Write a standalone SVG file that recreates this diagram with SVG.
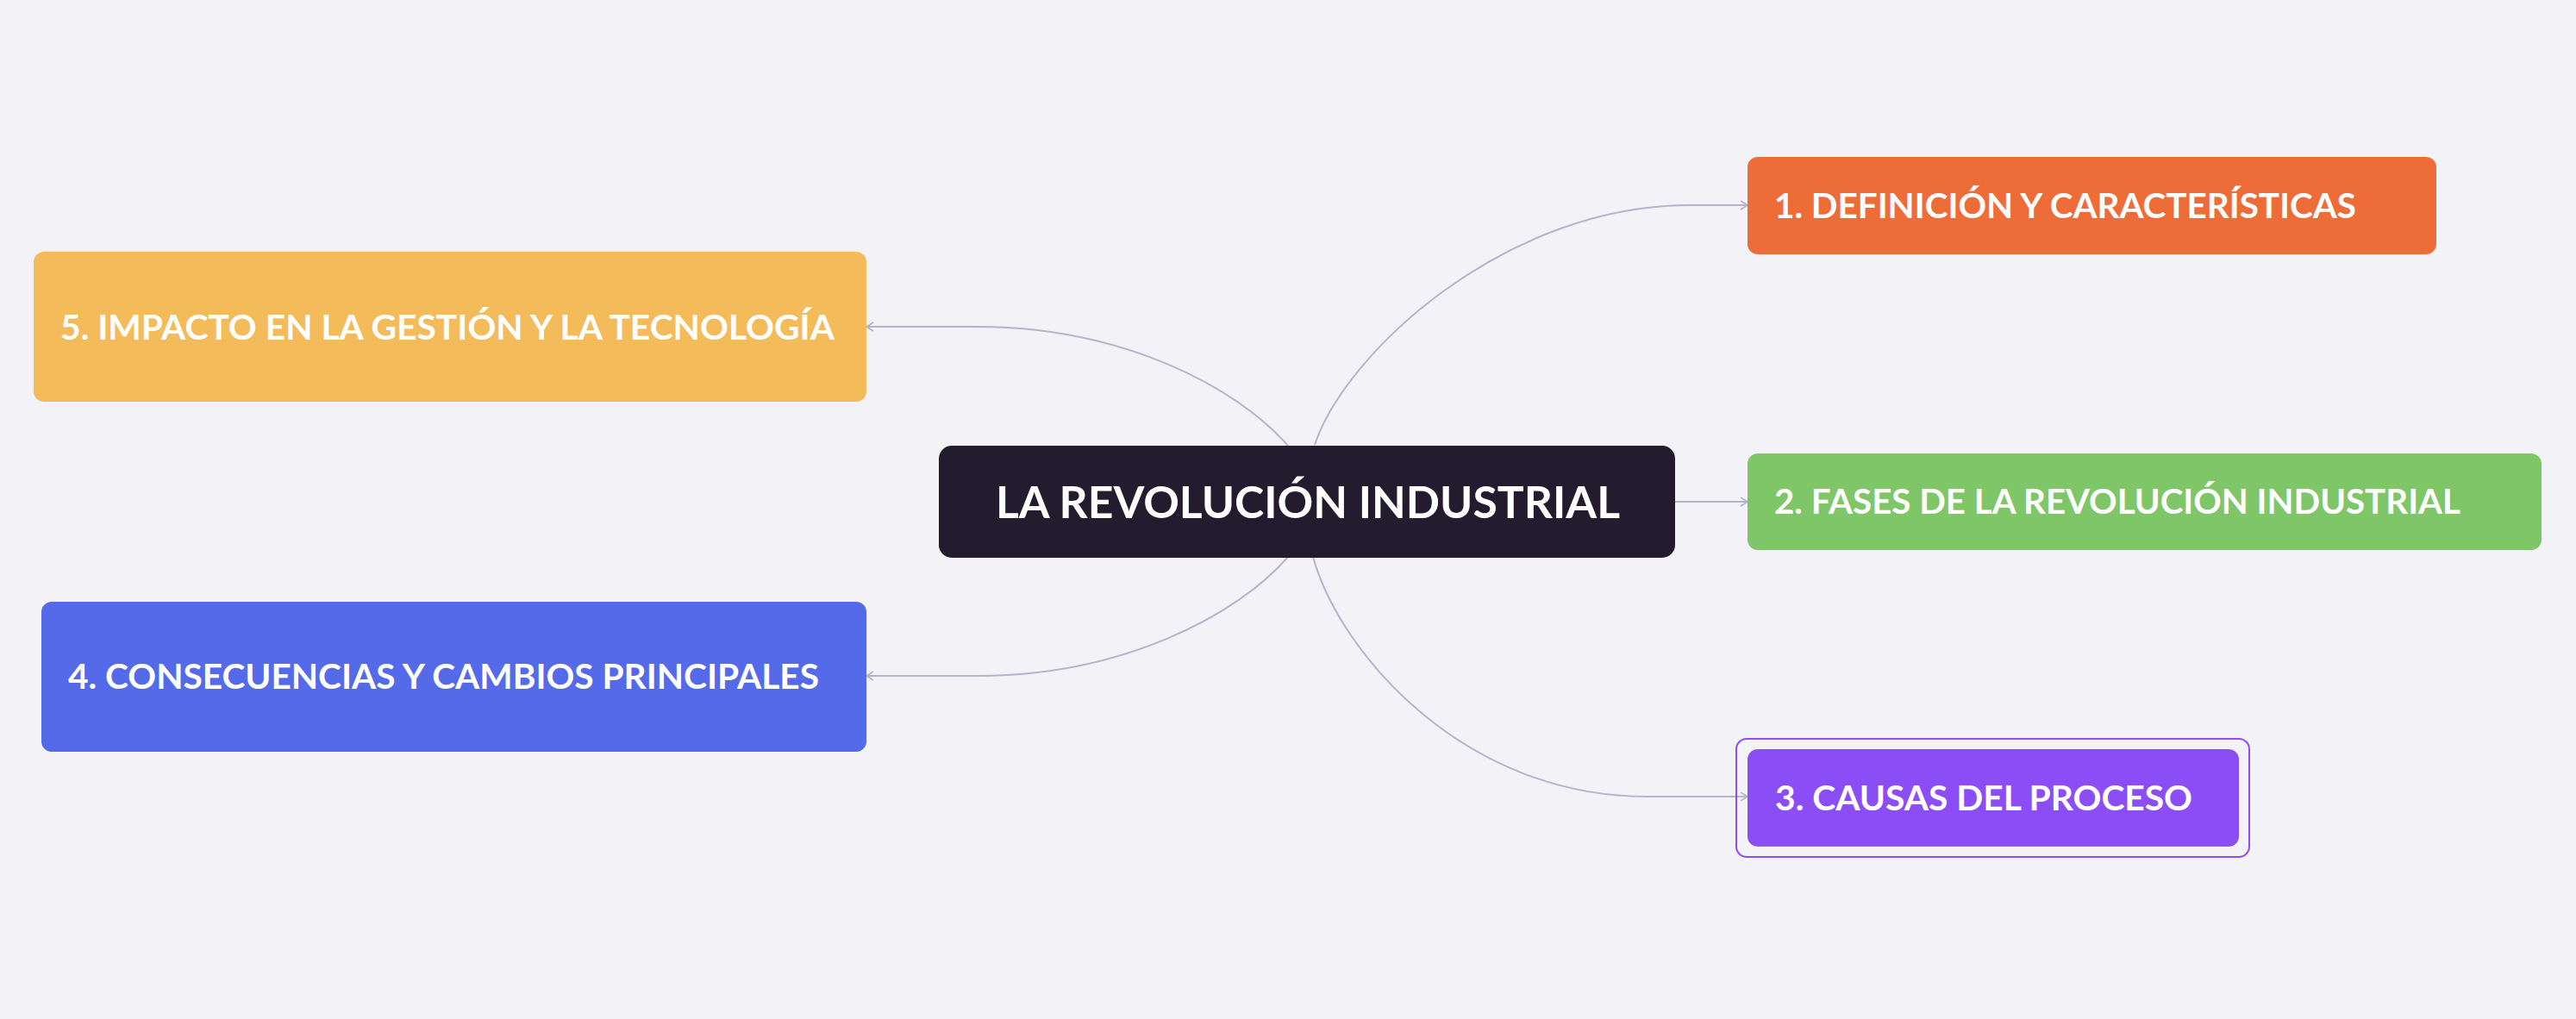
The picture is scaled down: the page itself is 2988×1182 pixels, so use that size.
<svg xmlns="http://www.w3.org/2000/svg" width="2988" height="1182" viewBox="0 0 2988 1182">
<style>
.bg{fill:#F3F3F7}
.edge{fill:none;stroke:#B4B4CC;stroke-width:2}
.lbl{font-family:Lato,"Noto Sans","Liberation Sans",sans-serif;font-weight:700;fill:#FFFFFF}
.leaf{font-size:40px}
.root{font-size:52px}
</style>
<defs>
<marker id="arr" markerUnits="userSpaceOnUse" markerWidth="12" markerHeight="12" refX="9" refY="6" orient="auto">
<path d="M1,1 L9,6 L1,11" fill="none" stroke="#B4B4CC" stroke-width="1.8"/>
</marker>
</defs>
<rect class="bg" x="0" y="0" width="2988" height="1182"/>
<g id="connectors">
<path class="edge" marker-end="url(#arr)" d="M1525,516 C1560,410 1745,238 1960,238 L2027,238"/>
<path class="edge" marker-end="url(#arr)" d="M1943,582 L2027,582"/>
<path class="edge" marker-end="url(#arr)" d="M1523,646 C1555,760 1700,924 1910,924 L2027,924"/>
<path class="edge" marker-end="url(#arr)" d="M1494,517 C1434,448 1300,379 1133,379 L1005,379"/>
<path class="edge" marker-end="url(#arr)" d="M1494,646 C1434,715 1300,784 1133,784 L1005,784"/>
</g>
<g id="node-root">
<rect x="1089" y="517" width="854" height="130" rx="15" fill="#221C2E"/>
<text class="lbl root" x="1155" y="600.5" textLength="724" lengthAdjust="spacingAndGlyphs">LA REVOLUCIÓN INDUSTRIAL</text>
</g>
<g id="node-1">
<rect x="2027" y="182" width="799" height="113" rx="12" fill="#ED6C38"/>
<text class="lbl leaf" x="2058" y="252.5" textLength="675" lengthAdjust="spacingAndGlyphs">1. DEFINICIÓN Y CARACTERÍSTICAS</text>
</g>
<g id="node-2">
<rect x="2027" y="526" width="921" height="112" rx="12" fill="#7EC668"/>
<text class="lbl leaf" x="2058" y="595.5" textLength="796" lengthAdjust="spacingAndGlyphs">2. FASES DE LA REVOLUCIÓN INDUSTRIAL</text>
</g>
<g id="node-3">
<rect x="2014" y="857" width="595" height="137" rx="12" fill="none" stroke="#8B4EF6" stroke-width="2"/>
<rect x="2027" y="869" width="570" height="113" rx="12" fill="#8B4EF6"/>
<text class="lbl leaf" x="2059" y="940" textLength="484" lengthAdjust="spacingAndGlyphs">3. CAUSAS DEL PROCESO</text>
</g>
<g id="node-4">
<rect x="48" y="698" width="957" height="174" rx="12" fill="#546AE8"/>
<text class="lbl leaf" x="79" y="799" textLength="871" lengthAdjust="spacingAndGlyphs">4. CONSECUENCIAS Y CAMBIOS PRINCIPALES</text>
</g>
<g id="node-5">
<rect x="39" y="292" width="966" height="174" rx="12" fill="#F4BB5A"/>
<text class="lbl leaf" x="70" y="394" textLength="898" lengthAdjust="spacingAndGlyphs">5. IMPACTO EN LA GESTIÓN Y LA TECNOLOGÍA</text>
</g>
</svg>
